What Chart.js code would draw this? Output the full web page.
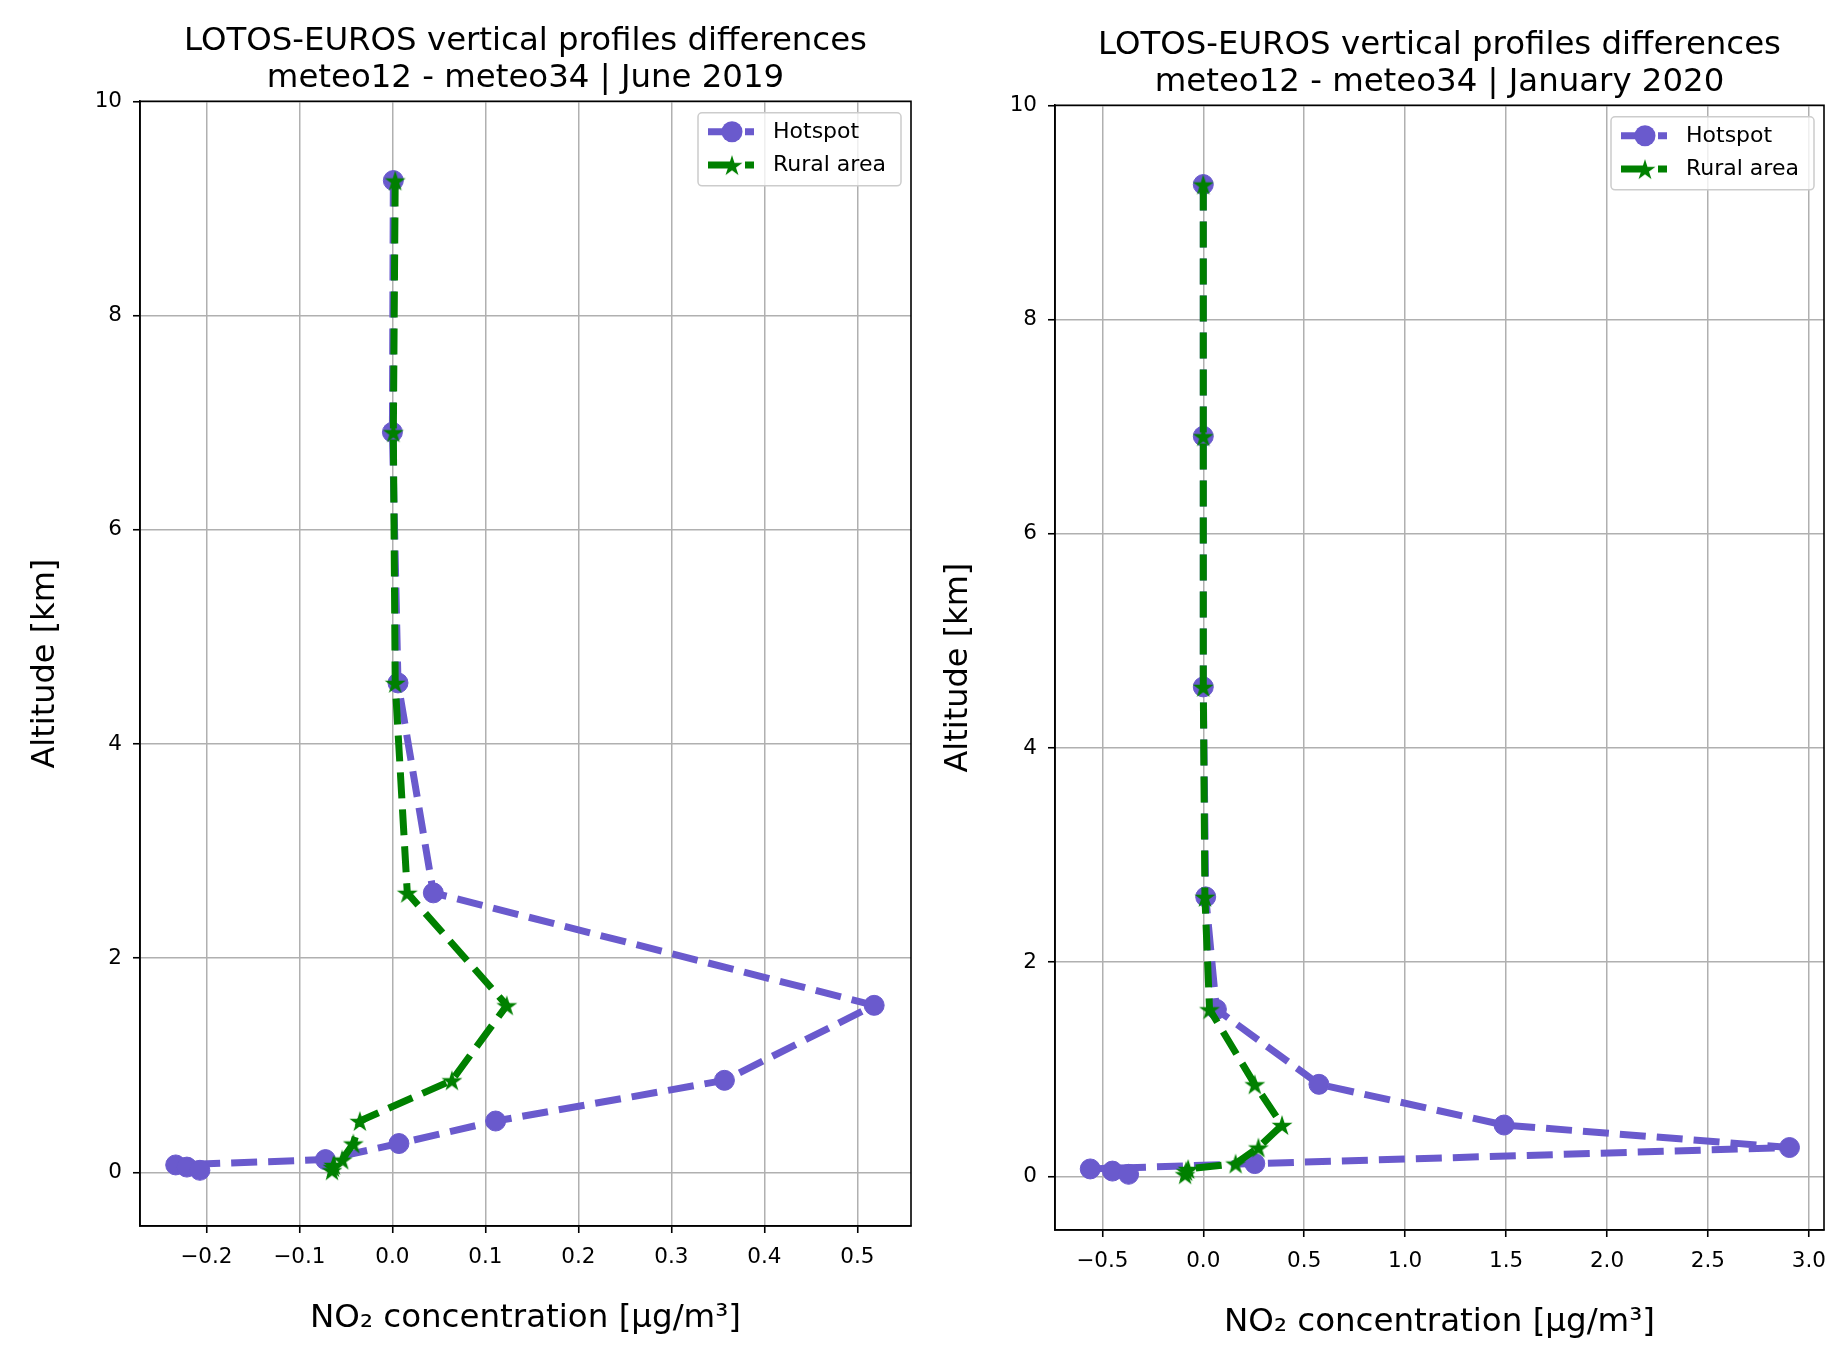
<!DOCTYPE html>
<html>
<head>
<meta charset="utf-8">
<title>LOTOS-EUROS vertical profiles differences</title>
<script src="https://cdn.jsdelivr.net/npm/chart.js@4.4.1/dist/chart.umd.min.js"></script>
<style>
  html, body { margin: 0; padding: 0; background: #fff; overflow: hidden; }
  #left { position: absolute; left: 0; top: 0; }
  #right { position: absolute; left: 913px; top: 4px; }
</style>
</head>
<body>
<canvas id="left" width="913" height="1345"></canvas>
<canvas id="right" width="913" height="1345"></canvas>
<script>
// model layer altitudes (km), top to bottom
const altitude = [9.26, 6.91, 4.57, 2.61, 1.56, 0.86, 0.48, 0.27, 0.12, 0.07, 0.05, 0.02];

// June 2019
const hotspotJune = [0.001, 0.0, 0.006, 0.044, 0.518, 0.357, 0.111, 0.007, -0.072, -0.233, -0.221, -0.207];
const ruralJune = [0.003, 0.001, 0.003, 0.016, 0.123, 0.064, -0.035, -0.042, -0.054, -0.063, -0.064, -0.065];

// January 2020
const hotspotJan = [0.0, 0.0, 0.0, 0.012, 0.065, 0.573, 1.49, 2.904, 0.255, -0.56, -0.45, -0.37];
const ruralJan = [0.0, 0.0, 0.0, 0.008, 0.031, 0.255, 0.39, 0.273, 0.16, -0.075, -0.085, -0.09];

// ticks
const yTicks = [0, 2, 4, 6, 8, 10];
const yTickLabels = ['0', '2', '4', '6', '8', '10'];
const xTicksJune = [-0.2, -0.1, 0.0, 0.1, 0.2, 0.3, 0.4, 0.5];
const xTickLabelsJune = ['\u22120.2', '\u22120.1', '0.0', '0.1', '0.2', '0.3', '0.4', '0.5'];
const xTicksJan = [-0.5, 0.0, 0.5, 1.0, 1.5, 2.0, 2.5, 3.0];
const xTickLabelsJan = ['\u22120.5', '0.0', '0.5', '1.0', '1.5', '2.0', '2.5', '3.0'];

const PURPLE = '#6a5acd';
const GREEN = '#008000';

Chart.defaults.font.family = '"DejaVu Sans", sans-serif';
Chart.defaults.color = '#000';

// filled five-pointed star, used as point style
function makeStar(r, color) {
    const c = document.createElement('canvas');
    const s = Math.ceil(2 * r + 2);
    c.width = s; c.height = s;
    const g = c.getContext('2d');
    const cx = s / 2, cy = s / 2 + r * 0.1;
    g.beginPath();
    for (let i = 0; i < 10; i++) {
        const rr = i % 2 === 0 ? r : r * 0.382;
        const a = -Math.PI / 2 + i * Math.PI / 5;
        const px = cx + rr * Math.cos(a), py = cy + rr * Math.sin(a);
        if (i === 0) g.moveTo(px, py); else g.lineTo(px, py);
    }
    g.closePath();
    g.fillStyle = color;
    g.fill();
    return c;
}
const starImg = makeStar(11, GREEN);

// top/right spines and matplotlib-like legend box
const frameAndLegend = {
    id: 'frameAndLegend',
    afterDatasetsDraw(chart) {
        const { ctx, chartArea: a } = chart;
        ctx.save();
        ctx.strokeStyle = '#000';
        ctx.lineWidth = 1.6;
        ctx.strokeRect(a.left, a.top, a.right - a.left, a.bottom - a.top);

        const w = 203, h = 73;
        const bx = a.right - 10 - w, by = a.top + 11.5;
        ctx.beginPath();
        ctx.roundRect(bx, by, w, h, 4);
        ctx.fillStyle = 'rgba(255,255,255,0.8)';
        ctx.fill();
        ctx.strokeStyle = '#cccccc';
        ctx.lineWidth = 1.5;
        ctx.stroke();

        chart.data.datasets.forEach((ds, i) => {
            const y = by + 19 + i * 33.3;
            ctx.setLineDash(ds.borderDash);
            ctx.lineWidth = ds.borderWidth;
            ctx.strokeStyle = ds.borderColor;
            ctx.beginPath();
            ctx.moveTo(bx + 10, y);
            ctx.lineTo(bx + 56, y);
            ctx.stroke();
            ctx.setLineDash([]);
            const mx = bx + 34;
            if (ds.pointStyle instanceof HTMLCanvasElement) {
                ctx.drawImage(ds.pointStyle, mx - ds.pointStyle.width / 2, y - ds.pointStyle.height / 2);
            } else {
                ctx.beginPath();
                ctx.arc(mx, y, ds.pointRadius + 0.5, 0, Math.PI * 2);
                ctx.fillStyle = ds.pointBackgroundColor;
                ctx.fill();
            }
            ctx.fillStyle = '#000';
            ctx.font = '22px "DejaVu Sans"';
            ctx.textBaseline = 'middle';
            ctx.textAlign = 'left';
            ctx.fillText(ds.label, bx + 75, y);
        });
        ctx.restore();
    }
};

function profile(xs) {
    return altitude.map((y, i) => ({ x: xs[i], y: y }));
}

function makeChart(id, period, hotspot, rural, xMin, xMax, xTicks, xLabels, yAxisWidth) {
    const gridStyle = { color: '#b0b0b0', lineWidth: 1.5, tickColor: '#000', tickLength: 7, tickWidth: 1.6 };
    return new Chart(document.getElementById(id), {
        type: 'scatter',
        data: {
            datasets: [{
                label: 'Hotspot',
                data: profile(hotspot),
                showLine: true,
                borderColor: PURPLE,
                backgroundColor: PURPLE,
                borderWidth: 7,
                borderDash: [26, 11],
                borderJoinStyle: 'round',
                pointStyle: 'circle',
                pointRadius: 10,
                pointBorderWidth: 1,
                pointBackgroundColor: PURPLE,
                pointBorderColor: PURPLE,
                order: 1
            }, {
                label: 'Rural area',
                data: profile(rural),
                showLine: true,
                borderColor: GREEN,
                backgroundColor: GREEN,
                borderWidth: 7,
                borderDash: [26, 11],
                borderJoinStyle: 'round',
                pointStyle: starImg,
                pointRadius: 10,
                pointBackgroundColor: GREEN,
                order: 0
            }]
        },
        options: {
            responsive: false,
            animation: false,
            events: [],
            layout: { autoPadding: false, padding: { left: 0, right: 2, top: 0, bottom: 0 } },
            plugins: {
                legend: { display: false },
                tooltip: { enabled: false },
                title: {
                    display: true,
                    fullSize: false,
                    text: ['LOTOS-EUROS vertical profiles differences', 'meteo12 - meteo34 | ' + period],
                    color: '#000',
                    font: { size: 32.4, weight: 'normal', lineHeight: 1.151 },
                    padding: { top: 22.6, bottom: 4.1 }
                }
            },
            scales: {
                x: {
                    type: 'linear',
                    min: xMin,
                    max: xMax,
                    afterFit: s => { s.height = 119; s.paddingLeft = 0; s.paddingRight = 0; },
                    afterBuildTicks: s => { s.ticks = xTicks.map(v => ({ value: v })); },
                    ticks: {
                        callback: (v, i) => xLabels[i],
                        color: '#000',
                        font: { size: 21.5 },
                        padding: 12,
                        maxRotation: 0,
                        autoSkip: false
                    },
                    grid: gridStyle,
                    border: { color: '#000', width: 1.6 },
                    title: {
                        display: true,
                        text: 'NO\u2082 concentration [\u00b5g/m\u00b3]',
                        color: '#000',
                        font: { size: 32.5 },
                        padding: { top: 0, bottom: 7.0 }
                    }
                },
                y: {
                    type: 'linear',
                    min: -0.5,
                    max: 10,
                    afterFit: s => { s.width = yAxisWidth; },
                    afterBuildTicks: s => { s.ticks = yTicks.map(v => ({ value: v })); },
                    ticks: {
                        callback: (v, i) => yTickLabels[i],
                        color: '#000',
                        font: { size: 21.5 },
                        padding: 11,
                        autoSkip: false
                    },
                    grid: gridStyle,
                    border: { color: '#000', width: 1.6 },
                    title: {
                        display: true,
                        text: 'Altitude [km]',
                        color: '#000',
                        font: { size: 32 },
                        padding: { top: 26.3, bottom: 0 }
                    }
                }
            }
        },
        plugins: [frameAndLegend]
    });
}

makeChart('left', 'June 2019', hotspotJune, ruralJune, -0.2714, 0.5576, xTicksJune, xTickLabelsJune, 140);
makeChart('right', 'January 2020', hotspotJan, ruralJan, -0.7346, 3.075, xTicksJan, xTickLabelsJan, 142);
</script>
</body>
</html>
